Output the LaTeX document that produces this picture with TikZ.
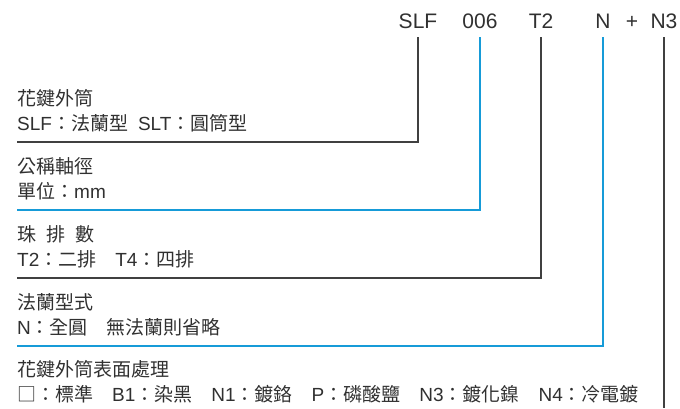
\documentclass[tikz,border=0pt]{standalone}
\usepackage{fontspec}
\setmainfont{Liberation Sans}
\newfontfamily\zhfont{Noto Sans CJK TC}
\newcommand{\zh}[1]{{\zhfont #1}}
\usetikzlibrary{positioning}

\definecolor{lineblue}{RGB}{22,155,216}
\definecolor{linegrey}{RGB}{64,64,64}
\definecolor{textgrey}{RGB}{48,48,48}

\tikzset{
    codebox/.style={anchor=base, inner xsep=0pt, inner ysep=9pt, text depth=0pt,
                    font=\fontsize{21}{21}\selectfont, text=textgrey},
    desctext/.style={anchor=base west, inner sep=0pt,
                     font=\fontsize{19}{20}\selectfont, text=textgrey},
    greyline/.style={draw=linegrey, line width=1.2pt},
    blueline/.style={draw=lineblue, line width=1.2pt}
}

\begin{document}
\begin{tikzpicture}[x=1pt, y=-1pt]
\useasboundingbox (0,0) rectangle (680,408);
        % Draw the code
        \node[codebox] at (418, 28)     (slf)      {SLF};
        \node[codebox] at (480, 28)     (size)     {006};
        \node[codebox] at (541, 28)     (rows)     {T2};
        \node[codebox] at (603, 28)     (flange)   {N};
        \node[codebox] at (632, 28)     (plus)     {+};
        \node[codebox] at (664, 28)     (surface)  {N3};

        % Draw the texts
        \node[desctext] at (17, 105)    (t1)   {\zh{花鍵外筒}};
        \node[desctext] at (17, 130)    (d1)   {SLF\zh{：法蘭型}\hspace{10pt}SLT\zh{：圓筒型}};
        \node[desctext] at (17, 173)    (t2)   {\zh{公稱軸徑}};
        \node[desctext] at (17, 198)    (d2)   {\zh{單位：}mm};
        \node[desctext] at (17, 241)    (t3)   {\zh{珠\hspace{10pt}排\hspace{10pt}數}};
        \node[desctext] at (17, 266)    (d3)   {T2\zh{：二排　}T4\zh{：四排}};
        \node[desctext] at (17, 309)    (t4)   {\zh{法蘭型式}};
        \node[desctext] at (17, 334)    (d4)   {N\zh{：全圓　無法蘭則省略}};
        \node[desctext] at (17, 376)    (t5)   {\zh{花鍵外筒表面處理}};
        \node[desctext] at (17, 401)    (d5)   {\zh{□：標準　}B1\zh{：染黑　}N1\zh{：鍍鉻　}P\zh{：磷酸鹽　}N3\zh{：鍍化鎳　}N4\zh{：冷電鍍}};

        % Line ends
        \coordinate (e1) at (17, 142);
        \coordinate (e2) at (17, 210);
        \coordinate (e3) at (17, 278);
        \coordinate (e4) at (17, 346);
        \coordinate (e5) at (664, 408);

\draw[greyline]  (slf) |- (e1);
\draw[blueline]  (size) |- (e2);
\draw[greyline]  (rows) |- (e3);
\draw[blueline]  (flange) |- (e4);
\draw[greyline]  (surface) -- (e5);
\end{tikzpicture}
\end{document}
